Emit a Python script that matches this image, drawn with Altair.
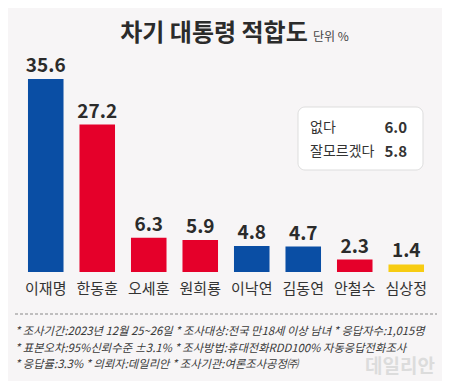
import altair as alt
import pandas as pd

# ---- data ----
candidates = ["이재명", "한동훈", "오세훈", "원희룡", "이낙연", "김동연", "안철수", "심상정"]
values = [35.6, 27.2, 6.3, 5.9, 4.8, 4.7, 2.3, 1.4]
colors = ["#0a4ea4", "#e5002a", "#e5002a", "#e5002a", "#0a4ea4", "#0a4ea4", "#e5002a", "#f7cc12"]

other_labels = ["없다", "잘모르겠다"]
other_values = [6.0, 5.8]

title_text = "차기 대통령 적합도"
unit_text = "단위 %"
footnotes = [
    "* 조사기간:2023년 12월 25~26일  * 조사대상:전국 만18세 이상 남녀  * 응답자수:1,015명",
    "* 표본오차:95%신뢰수준 ±3.1%  * 조사방법:휴대전화RDD100% 자동응답전화조사",
    "* 응답률:3.3%  * 의뢰자:데일리안  * 조사기관:여론조사공정㈜",
]
watermark = "데일리안"

FONT = "Noto Sans CJK KR"
NUMFONT = "Noto Sans CJK KR"
BG = "#f7f5f6"

df = pd.DataFrame({"cat": candidates, "value": values, "color": colors})
one = pd.DataFrame({"k": [0]})

x_enc = alt.X("cat:N", sort=None, axis=None,
              scale=alt.Scale(range=[12, 424], paddingInner=0.31, paddingOuter=0.155))
y_scale = alt.Scale(domain=[0, 40], range=[264, 47.1])

bars = alt.Chart(df).mark_bar().encode(
    x=x_enc,
    y=alt.Y("value:Q", scale=y_scale, axis=None),
    color=alt.Color("color:N", scale=None),
)

val_text = alt.Chart(df).mark_text(
    font=NUMFONT, fontSize=19, fontWeight="bold", color="#2b2b2b", baseline="alphabetic", dy=-7
).encode(
    x=x_enc,
    y=alt.Y("value:Q", scale=y_scale, axis=None),
    text=alt.Text("value:Q", format=".1f"),
)

cat_text = alt.Chart(df).mark_text(
    font=FONT, fontSize=15, color="#333333", baseline="middle"
).encode(
    x=x_enc,
    y=alt.value(281),
    text="cat:N",
)

title = alt.Chart(one).mark_text(
    font=FONT, fontSize=24, fontWeight="bold", color="#2b2b2b", baseline="alphabetic", align="center"
).encode(x=alt.value(206), y=alt.value(33), text=alt.value(title_text))

unit = alt.Chart(one).mark_text(
    font=FONT, fontSize=12, color="#444444", baseline="alphabetic", align="left"
).encode(x=alt.value(305), y=alt.value(33), text=alt.value(unit_text))

box = alt.Chart(one).mark_rect(
    fill="white", stroke="#dddddd", strokeWidth=1, cornerRadius=7
).encode(x=alt.value(290), x2=alt.value(415), y=alt.value(99), y2=alt.value(162))

layers = [bars, val_text, cat_text, title, unit, box]

legend_rows_y = [120, 144]
for lbl, val, yy in zip(other_labels, other_values, legend_rows_y):
    row = pd.DataFrame({"label": [lbl], "val": [f"{val:.1f}"]})
    layers.append(alt.Chart(row).mark_text(
        font=FONT, fontSize=14, color="#333333", align="left", baseline="middle"
    ).encode(x=alt.value(302), y=alt.value(yy), text="label:N"))
    layers.append(alt.Chart(row).mark_text(
        font=NUMFONT, fontSize=15, fontWeight="bold", color="#333333", align="right", baseline="middle"
    ).encode(x=alt.value(399), y=alt.value(yy), text="val:N"))

dash = alt.Chart(one).mark_rule(color="#888888", strokeDash=[3, 2], strokeWidth=1).encode(
    x=alt.value(7), x2=alt.value(429), y=alt.value(306)
)
layers.append(dash)

foot_y = [324, 341, 357]
for txt, yy in zip(footnotes, foot_y):
    row = pd.DataFrame({"text": [txt]})
    layers.append(alt.Chart(row).mark_text(
        font=FONT, fontSize=11.3, fontStyle="italic", color="#3a3a3a", align="left", baseline="middle"
    ).encode(x=alt.value(7), y=alt.value(yy), text="text:N"))

wm = alt.Chart(one).mark_text(
    font=FONT, fontSize=19, fontWeight="bold", color="#dcdcdc", align="right", baseline="middle"
).encode(x=alt.value(427), y=alt.value(359), text=alt.value(watermark))
layers.append(wm)

chart = alt.layer(*layers).properties(
    width=434, height=373, padding=0,
    autosize=alt.AutoSizeParams(type="none"),
    background=BG,
).configure_view(stroke=None)

chart.save("out.html", embed_options={"renderer": "svg", "actions": False})
